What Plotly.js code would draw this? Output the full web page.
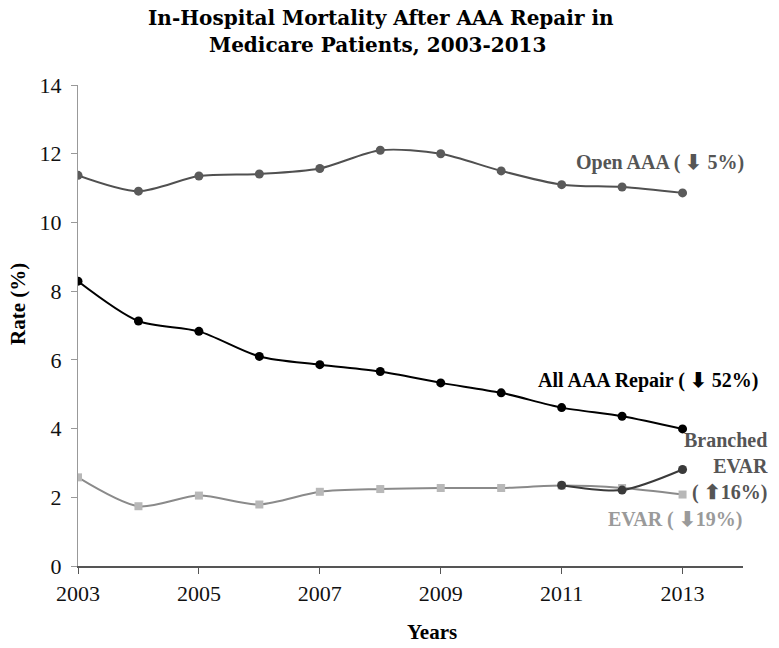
<!DOCTYPE html>
<html>
<head>
<meta charset="utf-8">
<script src="https://cdn.plot.ly/plotly-3.0.1.min.js"></script>
<style>
body{margin:0;background:#fff}
#chart{width:779px;height:648px}
</style>
</head>
<body>
<div id="chart"></div>
<script>
// values
let years=[2003,2004,2005,2006,2007,2008,2009,2010,2011,2012,2013]
let openAAA=[11.37,10.91,11.35,11.41,11.57,12.10,12.00,11.50,11.10,11.03,10.86]
let allAAA=[8.29,7.13,6.83,6.10,5.86,5.66,5.33,5.04,4.61,4.36,3.99]
let evar=[2.58,1.74,2.05,1.79,2.16,2.24,2.27,2.27,2.34,2.27,2.08]
let branchedYears=[2011,2012,2013]
let branchedEVAR=[2.35,2.21,2.81]
let xTicks=[2003,2005,2007,2009,2011,2013]
let yTicks=[0,2,4,6,8,10,12,14]
let titleLines=['In-Hospital Mortality After AAA Repair in','Medicare Patients, 2003-2013']

const serif='"Liberation Serif", "Times New Roman", serif'
const wideSerif='"DejaVu Serif", serif'

let mk=(x,y,lineCol,markCol,sym,size)=>({
    x:x,y:y,type:'scatter',mode:'lines+markers',
    line:{color:lineCol,width:2,shape:'spline',smoothing:0.8},
    marker:{color:markCol,symbol:sym,size:size},
    hoverinfo:'x+y',showlegend:false
})

let traces=[
    mk(years,evar,'#8a8a8a','#b8b8b8','square',8),
    mk(branchedYears,branchedEVAR,'#3a3a3a','#3a3a3a','circle',9),
    mk(years,openAAA,'#505050','#5a5a5a','circle',9),
    mk(years,allAAA,'#000','#000','circle',9)
]

// x in paper units (labels sit right of the last year), y in data units
let lbl=(text,x,y,color,extra)=>Object.assign({
    text:'<b>'+text+'</b>',x:x,y:y,xref:'paper',yref:'y',showarrow:false,
    xanchor:'right',yanchor:'middle',
    font:{family:serif,size:20,color:color}
},extra||{})

let paperText=(text,x,y,font,extra)=>Object.assign({
    text:text,xref:'paper',yref:'paper',x:x,y:y,showarrow:false,
    xanchor:'center',yanchor:'middle',font:font
},extra||{})

let layout={
    width:779,height:648,
    paper_bgcolor:'#fff',plot_bgcolor:'#fff',
    margin:{l:78,r:36,t:85,b:82},
    xaxis:{
        range:[2003,2014],tickvals:xTicks,ticktext:xTicks.map(String),
        showgrid:false,zeroline:false,showline:true,linecolor:'#555',linewidth:1.5,
        ticks:'outside',ticklen:6,tickcolor:'#555',
        tickfont:{family:serif,size:22,color:'#111'},
        ticklabelstandoff:1
    },
    yaxis:{
        range:[0,14],tickvals:yTicks,
        showgrid:false,zeroline:false,showline:true,linecolor:'#999',linewidth:1,
        ticks:'outside',ticklen:6,tickcolor:'#999',
        tickfont:{family:serif,size:22,color:'#111'},
        ticklabelstandoff:5
    },
    annotations:[
        paperText('<b>'+titleLines[0]+'</b>',0.455,1.139,{family:wideSerif,size:20,color:'#000'}),
        paperText('<b>'+titleLines[1]+'</b>',0.45,1.083,{family:wideSerif,size:20,color:'#000'}),
        lbl('Open AAA ( \u2B07 5%)',1.0045,11.75,'#555'),
        lbl('All AAA Repair ( \u2B07 52%)',1.027,5.39,'#000'),
        lbl('Branched<br>EVAR<br>( \u2B0616%)',1.041,2.9,'#555',{align:'right'}),
        lbl('EVAR ( \u2B0719%)',1.0018,1.36,'#9a9a9a'),
        paperText('<b>Rate (%)</b>',-0.09,0.545,{family:serif,size:21,color:'#000'},{textangle:-90}),
        paperText('<b>Years</b>',0.532,-0.137,{family:serif,size:21,color:'#000'})
    ]
}

Plotly.newPlot('chart',traces,layout,{displayModeBar:false,staticPlot:true})
</script>
</body>
</html>
